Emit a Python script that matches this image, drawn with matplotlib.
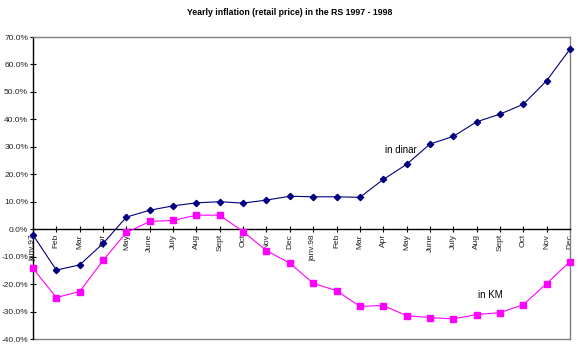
import matplotlib
matplotlib.use("Agg")
import matplotlib.pyplot as plt
from matplotlib.ticker import FuncFormatter, MultipleLocator

months = ["janv.97", "Feb", "Mar", "Apr", "May", "June", "July", "Aug", "Sept", "Oct", "Nov", "Dec",
          "janv.98", "Feb", "Mar", "Apr", "May", "June", "July", "Aug", "Sept", "Oct", "Nov", "Dec"]

in_dinar = [-2.1, -14.9, -13.0, -5.2, 4.4, 6.9, 8.5, 9.6, 10.0, 9.5, 10.6, 12.0,
            11.8, 11.8, 11.6, 18.1, 23.6, 31.0, 33.8, 39.1, 41.9, 45.5, 54.1, 65.6]
in_km = [-14.3, -24.9, -22.7, -11.4, -1.2, 2.8, 3.2, 5.1, 5.1, -0.9, -7.8, -12.4,
         -19.7, -22.4, -28.1, -27.8, -31.5, -32.2, -32.7, -31.1, -30.4, -27.5, -19.8, -11.8]

plt.rcParams["font.family"] = ["Liberation Sans", "DejaVu Sans"]

fig = plt.figure(figsize=(5.8, 3.54), dpi=100)
ax = fig.add_axes([33 / 580, 1 - 339 / 354, 537 / 580, 302 / 354])

x = list(range(len(months)))
ax.plot(x, in_dinar, color="#000080", lw=0.8, marker="D", ms=3.2, clip_on=False, zorder=3)
ax.plot(x, in_km, color="#ff00ff", lw=0.8, marker="s", ms=4, clip_on=False, zorder=3)

ax.set_xlim(0, 23)
ax.set_ylim(-40, 70)
ax.yaxis.set_major_locator(MultipleLocator(10))
ax.yaxis.set_major_formatter(FuncFormatter(lambda v, _: f"{v:.1f}%"))

# x axis crosses at 0, plot border in gray
ax.spines["bottom"].set_position(("data", 0))
ax.spines["bottom"].set_color("black")
ax.spines["bottom"].set_linewidth(1.0)
ax.spines["left"].set_color("black")
ax.spines["left"].set_linewidth(1.0)
for s in ("top", "right"):
    ax.spines[s].set_color("#808080")
    ax.spines[s].set_linewidth(1.0)
ax.axhline(-40, color="#808080", lw=1.0, clip_on=False)

ax.set_xticks(x)
ax.set_xticklabels(months, rotation=90, fontsize=6, color="#222222")
ax.tick_params(axis="x", direction="inout", length=5, width=0.8, pad=1)
ax.tick_params(axis="y", direction="inout", length=5, width=0.8, pad=1, labelsize=6, labelcolor="#222222")

ax.text(15.75, 29, "in dinar", fontsize=7, ha="center", va="center")
ax.text(19.6, -24.0, "in KM", fontsize=7, ha="center", va="center")

fig.suptitle("Yearly inflation (retail price) in the RS 1997 - 1998", y=0.978, fontsize=6.3, fontweight="bold")

fig.savefig("out.png", dpi=100)
